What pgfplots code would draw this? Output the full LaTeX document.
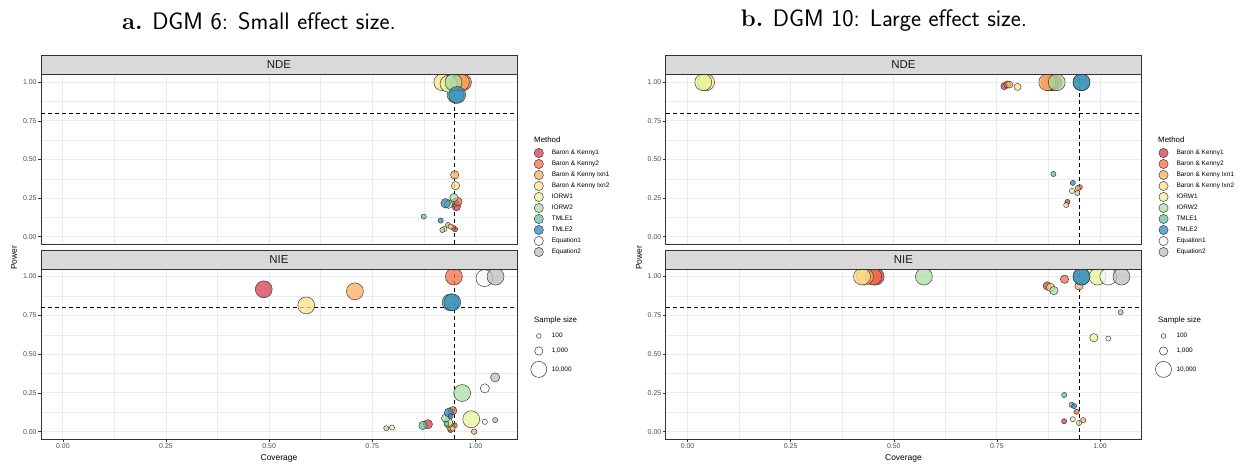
\documentclass[border=0pt]{standalone}
\usepackage{pgfplots}
\pgfplotsset{compat=1.18}
\usepackage{fontspec}
\newfontfamily\arialf{Liberation Sans}
\definecolor{cBKa}{HTML}{D53E4F}
\definecolor{cBKb}{HTML}{F46D43}
\definecolor{cIxa}{HTML}{FDAE61}
\definecolor{cIxb}{HTML}{FEE08B}
\definecolor{cIOa}{HTML}{E6F598}
\definecolor{cIOb}{HTML}{ABDDA4}
\definecolor{cTMa}{HTML}{66C2A5}
\definecolor{cTMb}{HTML}{3288BD}
\definecolor{cEqa}{HTML}{F7F7F7}
\definecolor{cEqb}{HTML}{BDBDBD}
\definecolor{grid92}{HTML}{EBEBEB}
\definecolor{g20}{HTML}{333333}
\definecolor{g30}{HTML}{4D4D4D}
\definecolor{g85}{HTML}{D9D9D9}
\definecolor{g10}{HTML}{1A1A1A}
\newcommand\fs[1]{\arialf\fontsize{#1}{#1}\selectfont}
\pgfplotsset{
  panel/.style={
    scale only axis, width=476bp, anchor=south west,
    xmin=-0.053, xmax=1.101, ymin=-0.0475, ymax=1.049,
    xtick={0,0.25,0.5,0.75,1}, ytick={0,0.25,0.5,0.75,1},
    minor xtick={0.125,0.375,0.625,0.875}, minor ytick={0.125,0.375,0.625,0.875},
    xticklabels={0.00,0.25,0.50,0.75,1.00}, yticklabels={0.00,0.25,0.50,0.75,1.00},
    xtick pos=bottom, ytick pos=left,
    grid=both, major grid style={draw=grid92, line width=0.9bp},
    minor grid style={draw=grid92, line width=0.45bp},
    axis line style={draw=g20, line width=0.9bp},
    tick align=outside, major tick length=2.7bp, minor tick length=0pt,
    tick style={draw=g20, line width=0.6bp},
    ticklabel style={font=\fs{7}, text=g30},
    xticklabel style={inner sep=1.5bp}, yticklabel style={inner sep=1.5bp},
    legend cell align=left,
    legend image code/.code={\path[draw=none,fill=none] (-8bp,-5.5bp) rectangle (8bp,5.5bp); \draw[##1] plot coordinates {(0bp,0bp)};},
  },
  toppanel/.style={panel, height=169.3bp, xticklabels={}, x tick style={draw=none}},
  botpanel/.style={panel, height=170bp},
  pt/.style={scatter, only marks, mark=*, forget plot,
    scatter/use mapped color={draw=g20, fill=#1, fill opacity=0.75},
    visualization depends on={\thisrow{r}\as\rr},
    scatter/@pre marker code/.append style={/tikz/mark size=\rr},
    mark options={line width=0.45bp}},
  refl/.style={forget plot, black, line width=0.8bp, dash pattern=on 4bp off 3bp},
  methodleg/.style={legend style={at={(axis description cs:1.029,0.570)}, anchor=north west,
    draw=none, fill=none, inner sep=0pt, outer sep=0pt, row sep=0bp, font=\fs{6.5},
    nodes={inner sep=0bp, text height=4.8bp, text depth=1.3bp},
    /tikz/every odd column/.append style={column sep=5bp}}},
  sizeleg/.style={legend style={at={(axis description cs:1.029,0.6365)}, anchor=north west,
    draw=none, fill=none, inner sep=0pt, outer sep=0pt, row sep=4.6bp, font=\fs{6.5},
    nodes={inner sep=0bp, text height=4.8bp, text depth=1.3bp},
    /tikz/every odd column/.append style={column sep=5bp}}},
  szimg/.style={legend image code/.code={\path[draw=none,fill=none] (-8bp,-#1) rectangle (8bp,#1); \draw[##1] plot coordinates {(0bp,0bp)};}},
  mimg/.style={mark=*, mark size=4.6bp, draw=g20, fill=#1, fill opacity=0.75, line width=0.45bp},
}
\newcommand\methodlegend{%
  \addlegendimage{mimg=cBKa}\addlegendentry{Baron \& Kenny1}
  \addlegendimage{mimg=cBKb}\addlegendentry{Baron \& Kenny2}
  \addlegendimage{mimg=cIxa}\addlegendentry{Baron \& Kenny Ixn1}
  \addlegendimage{mimg=cIxb}\addlegendentry{Baron \& Kenny Ixn2}
  \addlegendimage{mimg=cIOa}\addlegendentry{IORW1}
  \addlegendimage{mimg=cIOb}\addlegendentry{IORW2}
  \addlegendimage{mimg=cTMa}\addlegendentry{TMLE1}
  \addlegendimage{mimg=cTMb}\addlegendentry{TMLE2}
  \addlegendimage{mimg=cEqa}\addlegendentry{Equation1}
  \addlegendimage{mimg=cEqb}\addlegendentry{Equation2}}
\newcommand\sizelegend{%
  \addlegendimage{szimg=5.2bp, mark=o, mark size=2.35bp, draw=g20, line width=0.5bp}\addlegendentry{100}
  \addlegendimage{szimg=5.2bp, mark=o, mark size=4.15bp, draw=g20, line width=0.5bp}\addlegendentry{1,000}
  \addlegendimage{szimg=8.6bp, mark=o, mark size=8bp, draw=g20, line width=0.5bp}\addlegendentry{10,000}}
\newcommand\reflines{%
  \addplot[refl] coordinates {(-0.053,0.8) (1.101,0.8)};
  \addplot[refl] coordinates {(0.95,-0.0475) (0.95,1.049)};}
\begin{document}
\begin{tikzpicture}
\useasboundingbox (0,0) rectangle (1251bp,466bp);
% ---------------- LEFT TOP (NDE, DGM 6)
\begin{axis}[toppanel, at={(41bp,222bp)}, methodleg]
\addplot[pt=cTMa] table[row sep=\\]{x y r\\ 0.952 0.920 8.5\\ 0.950 0.220 4.2\\ 0.875 0.130 2.6\\};
\addplot[pt=cBKa] table[row sep=\\]{x y r\\ 0.960 1.000 8.5\\ 0.954 0.194 4.2\\ 0.951 0.048 2.6\\};
\addplot[pt=cBKb] table[row sep=\\]{x y r\\ 0.970 1.000 8.5\\ 0.958 0.227 4.2\\ 0.946 0.058 2.6\\};
\addplot[pt=cIxa] table[row sep=\\]{x y r\\ 0.965 1.000 8.5\\ 0.950 0.400 4.2\\ 0.934 0.076 2.6\\};
\addplot[pt=cIxb] table[row sep=\\]{x y r\\ 0.920 1.000 8.5\\ 0.952 0.330 4.2\\ 0.940 0.065 2.6\\};
\addplot[pt=cIOa] table[row sep=\\]{x y r\\ 0.935 0.990 8.5\\ 0.935 0.210 4.2\\ 0.925 0.050 2.6\\};
\addplot[pt=cIOb] table[row sep=\\]{x y r\\ 0.947 1.000 8.5\\ 0.948 0.253 4.2\\ 0.920 0.043 2.6\\};
\addplot[pt=cTMb] table[row sep=\\]{x y r\\ 0.956 0.918 8.5\\ 0.928 0.216 4.8\\ 0.916 0.104 2.6\\};
\reflines
\methodlegend
\end{axis}
% ---------------- LEFT BOTTOM (NIE, DGM 6)
\begin{axis}[botpanel, at={(41bp,27bp)}, sizeleg]
\addplot[pt=cBKa] table[row sep=\\]{x y r\\ 0.487 0.918 8.5\\ 0.885 0.048 4.6\\ 0.940 0.010 2.6\\};
\addplot[pt=cBKb] table[row sep=\\]{x y r\\ 0.948 1.000 8.5\\ 0.945 0.135 4.2\\ 0.950 0.040 2.6\\};
\addplot[pt=cIxa] table[row sep=\\]{x y r\\ 0.708 0.905 8.5\\ 0.940 0.030 4.2\\ 0.997 0.000 2.8\\};
\addplot[pt=cIxb] table[row sep=\\]{x y r\\ 0.590 0.814 8.5\\ 0.936 0.052 4.2\\ 0.945 0.020 2.6\\};
\addplot[pt=cIOa] table[row sep=\\]{x y r\\ 0.990 0.080 8.5\\ 0.935 0.060 4.2\\ 0.798 0.026 2.6\\};
\addplot[pt=cIOb] table[row sep=\\]{x y r\\ 0.968 0.249 8.5\\ 0.928 0.087 4.2\\ 0.784 0.022 2.6\\};
\addplot[pt=cTMa] table[row sep=\\]{x y r\\ 0.940 0.834 8.5\\ 0.873 0.040 4.2\\ 0.930 0.050 2.6\\};
\addplot[pt=cTMb] table[row sep=\\]{x y r\\ 0.944 0.834 8.5\\ 0.936 0.123 4.6\\ 0.940 0.100 2.6\\};
\addplot[pt=cEqa] table[row sep=\\]{x y r\\ 1.022 0.990 8.5\\ 1.023 0.279 4.6\\ 1.023 0.063 2.6\\};
\addplot[pt=cEqb] table[row sep=\\]{x y r\\ 1.049 1.000 8.5\\ 1.048 0.350 4.6\\ 1.048 0.074 2.6\\};
\reflines
\sizelegend
\end{axis}
% ---------------- RIGHT TOP (NDE, DGM 10)
\begin{axis}[toppanel, at={(665.7bp,222bp)}, methodleg]
\addplot[pt=cBKa] table[row sep=\\]{x y r\\ 0.887 1.000 8.5\\ 0.768 0.975 3.6\\ 0.921 0.225 2.6\\};
\addplot[pt=cBKb] table[row sep=\\]{x y r\\ 0.878 1.000 8.5\\ 0.775 0.985 3.6\\ 0.951 0.320 2.6\\};
\addplot[pt=cIxa] table[row sep=\\]{x y r\\ 0.872 1.000 8.5\\ 0.780 0.985 3.6\\ 0.946 0.315 2.6\\};
\addplot[pt=cIxb] table[row sep=\\]{x y r\\ 0.045 1.000 8.5\\ 0.800 0.970 3.6\\ 0.918 0.205 2.6\\};
\addplot[pt=cIOa] table[row sep=\\]{x y r\\ 0.038 1.000 8.5\\ 0.932 0.296 2.6\\};
\addplot[pt=cIOb] table[row sep=\\]{x y r\\ 0.895 1.000 8.5\\ 0.945 0.283 2.6\\};
\addplot[pt=cTMa] table[row sep=\\]{x y r\\ 0.955 1.000 8.5\\ 0.887 0.406 2.6\\};
\addplot[pt=cTMb] table[row sep=\\]{x y r\\ 0.955 1.000 8.5\\ 0.934 0.348 2.6\\};
\reflines
\methodlegend
\end{axis}
% ---------------- RIGHT BOTTOM (NIE, DGM 10)
\begin{axis}[botpanel, at={(665.7bp,27bp)}, sizeleg]
\addplot[pt=cBKa] table[row sep=\\]{x y r\\ 0.456 1.000 8.5\\ 0.872 0.940 4.2\\ 0.913 0.067 2.6\\};
\addplot[pt=cBKb] table[row sep=\\]{x y r\\ 0.450 1.000 8.5\\ 0.914 0.983 4.2\\ 0.943 0.128 2.6\\};
\addplot[pt=cIxa] table[row sep=\\]{x y r\\ 0.430 1.000 8.5\\ 0.949 0.940 4.2\\ 0.959 0.074 2.6\\};
\addplot[pt=cIxb] table[row sep=\\]{x y r\\ 0.423 1.000 8.5\\ 0.880 0.930 4.2\\ 0.949 0.056 2.6\\};
\addplot[pt=cIOa] table[row sep=\\]{x y r\\ 0.994 1.000 8.5\\ 0.985 0.606 4.2\\ 0.934 0.080 2.6\\};
\addplot[pt=cIOb] table[row sep=\\]{x y r\\ 0.573 1.000 8.5\\ 0.888 0.910 4.2\\};
\addplot[pt=cTMa] table[row sep=\\]{x y r\\ 0.955 1.000 8.5\\ 0.913 0.236 2.6\\ 0.931 0.173 2.6\\};
\addplot[pt=cTMb] table[row sep=\\]{x y r\\ 0.955 1.000 8.5\\ 0.937 0.165 2.6\\};
\addplot[pt=cEqa] table[row sep=\\]{x y r\\ 1.020 1.000 8.5\\ 1.020 0.600 2.6\\};
\addplot[pt=cEqb] table[row sep=\\]{x y r\\ 1.052 1.000 8.5\\ 1.050 0.770 2.6\\};
\reflines
\sizelegend
\end{axis}
% ---------------- strips
\foreach \xa/\xb in {41/517, 665.7/1141.3}{
  \draw[fill=g85, draw=g20, line width=0.9bp] (\xa bp,391.3bp) rectangle (\xb bp,411bp);
  \draw[fill=g85, draw=g20, line width=0.9bp] (\xa bp,197bp) rectangle (\xb bp,216bp);
}
\node[font=\fs{11.5}, text=g10] at (279bp,401.2bp) {NDE};
\node[font=\fs{11.5}, text=g10] at (279bp,206.5bp) {NIE};
\node[font=\fs{11.5}, text=g10] at (903.5bp,401.2bp) {NDE};
\node[font=\fs{11.5}, text=g10] at (903.5bp,206.5bp) {NIE};
% ---------------- axis titles and legend titles
\node[font=\fs{8.5}] at (279bp,8bp) {Coverage};
\node[font=\fs{8.5}] at (903.5bp,8bp) {Coverage};
\node[font=\fs{8.5}, rotate=90] at (14bp,208bp) {Power};
\node[font=\fs{8.5}, rotate=90] at (639bp,208bp) {Power};
\node[font=\fs{7.9}, anchor=west, inner sep=0pt] at (534bp,326bp) {Method};
\node[font=\fs{7.9}, anchor=west, inner sep=0pt] at (1158bp,326bp) {Method};
\node[font=\fs{7.9}, anchor=west, inner sep=0pt] at (534bp,146bp) {Sample size};
\node[font=\fs{7.9}, anchor=west, inner sep=0pt] at (1158bp,146bp) {Sample size};
% ---------------- panel titles
\node[font=\fontsize{24}{26}\selectfont] at (259bp,445bp) {\textbf{a.} \sffamily DGM 6: Small effect size.};
\node[font=\fontsize{24}{26}\selectfont] at (884bp,445bp) {\textbf{b.} \sffamily DGM 10: Large effect size.};
\end{tikzpicture}
\end{document}
